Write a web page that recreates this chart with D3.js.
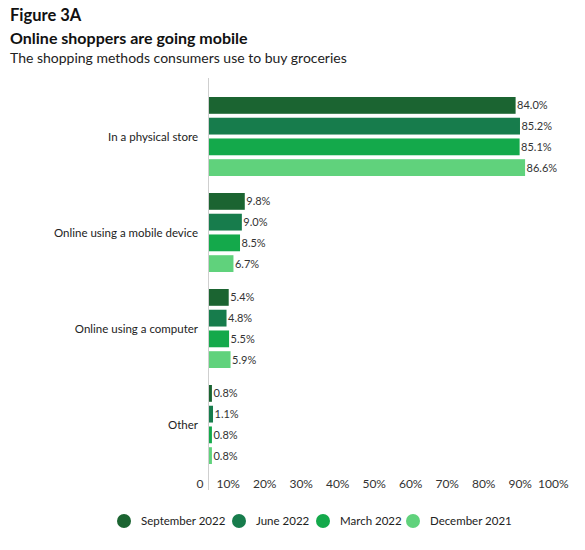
<!DOCTYPE html>
<html>
<head>
<meta charset="utf-8">
<script src="https://cdn.jsdelivr.net/npm/d3@7"></script>
<style>
  html, body { margin: 0; padding: 0; background: #fff; }
  svg { display: block; font-family: Lato, "Open Sans", sans-serif; }
</style>
</head>
<body>
<svg id="chart" width="585" height="550"></svg>
<script>
// ── data ──
const categories = ['In a physical store', 'Online using a mobile device', 'Online using a computer', 'Other'];
const series = ['September 2022', 'June 2022', 'March 2022', 'December 2021'];
const sep2022 = [84.0, 9.8, 5.4, 0.8];
const jun2022 = [85.2, 9.0, 4.8, 1.1];
const mar2022 = [85.1, 8.5, 5.5, 0.8];
const dec2021 = [86.6, 6.7, 5.9, 0.8];
const ticks = [0, 10, 20, 30, 40, 50, 60, 70, 80, 90, 100];

const values = [sep2022, jun2022, mar2022, dec2021];
const COLORS = ['#1b6431', '#177c4c', '#14a94b', '#60d27c'];

const svg = d3.select('#chart');

// ── titles ──
svg.append('text').attr('x', 10).attr('y', 21)
  .attr('font-size', 16.5).attr('font-weight', 700).attr('fill', '#111')
  .text('Figure 3A');
svg.append('text').attr('x', 10).attr('y', 44)
  .attr('font-size', 16).attr('font-weight', 700).attr('fill', '#111')
  .text('Online shoppers are going mobile');
svg.append('text').attr('x', 10).attr('y', 63)
  .attr('font-size', 14).attr('fill', '#222')
  .text('The shopping methods consumers use to buy groceries');

// ── scales ──
const x = d3.scaleLinear([0, 100], [208.5, 573.5]);
const y0 = d3.scaleBand(categories, [88, 472]).paddingInner(0).paddingOuter(0);
const y1 = d3.scaleBand(series, [9, 88]).paddingInner(0.19).paddingOuter(0);

// axis line
svg.append('line')
  .attr('x1', x(0)).attr('x2', x(0)).attr('y1', 78).attr('y2', 490)
  .attr('stroke', '#cfcfcf').attr('stroke-width', 1);

// ── bars ──
const groups = svg.selectAll('g.cat')
  .data(categories)
  .join('g')
  .attr('class', 'cat')
  .attr('transform', c => `translate(0,${y0(c)})`);

groups.append('text')
  .attr('x', 198)
  .attr('y', y0.bandwidth() / 2 + 4.5)
  .attr('text-anchor', 'end')
  .attr('font-size', 11.5).attr('fill', '#222')
  .text(c => c);

groups.each(function(c, ci) {
  const g = d3.select(this);
  series.forEach((s, si) => {
    const v = values[si][ci];
    g.append('rect')
      .attr('x', x(0) + 0.5)
      .attr('y', y1(s))
      .attr('width', x(v) - x(0))
      .attr('height', y1.bandwidth())
      .attr('fill', COLORS[si]);
    g.append('text')
      .attr('x', x(v) + 2)
      .attr('y', y1(s) + y1.bandwidth() / 2 + 4)
      .attr('font-size', 11).attr('fill', '#333')
      .text(v.toFixed(1) + '%');
  });
});

// ── x tick labels ──
svg.append('g').selectAll('text')
  .data(ticks)
  .join('text')
  .attr('x', d => x(d) - 5)
  .attr('y', 488)
  .attr('text-anchor', 'end')
  .attr('font-size', 12).attr('fill', '#333')
  .text(d => d === 0 ? '0' : d + '%');

// ── legend ──
const legendX = [124, 239, 323, 413];
const lg = svg.append('g');
series.forEach((s, i) => {
  lg.append('circle').attr('cx', legendX[i]).attr('cy', 521).attr('r', 7).attr('fill', COLORS[i]);
  lg.append('text').attr('x', legendX[i] + 17).attr('y', 525)
    .attr('font-size', 11.5).attr('fill', '#222').text(s);
});
</script>
</body>
</html>
